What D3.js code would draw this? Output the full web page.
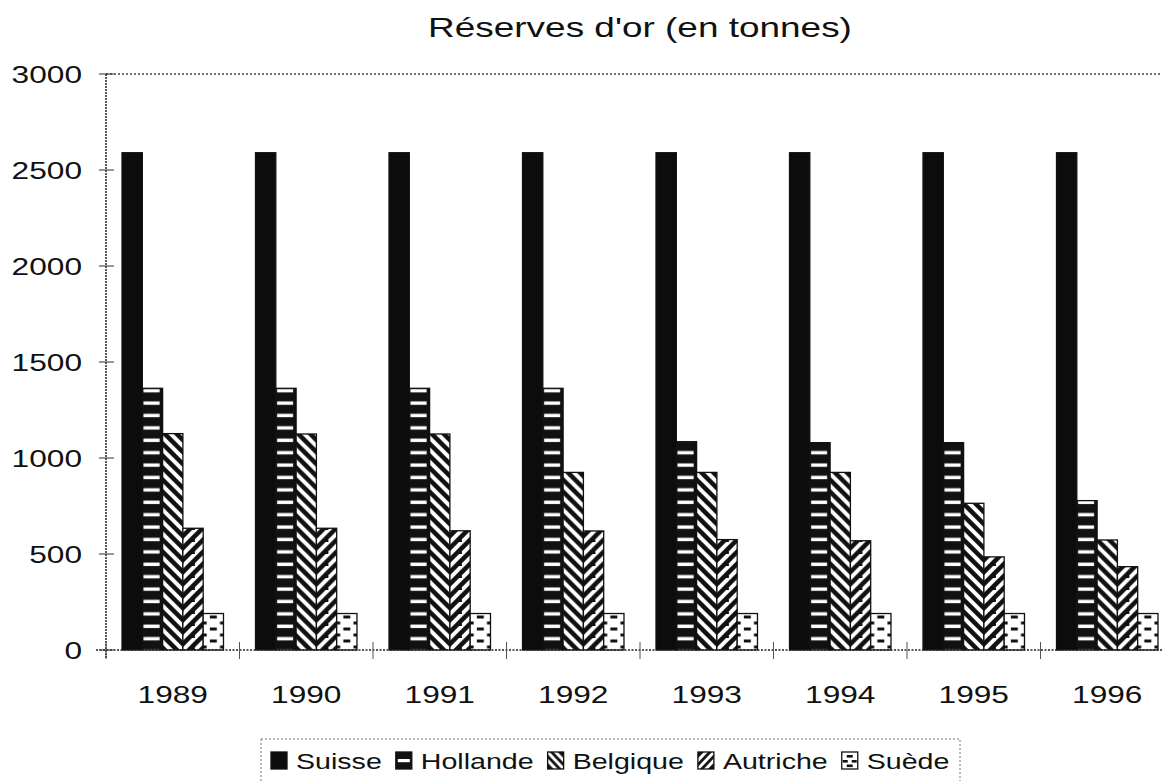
<!DOCTYPE html>
<html>
<head>
<meta charset="utf-8">
<script src="https://cdn.jsdelivr.net/npm/d3@7"></script>
<style>
  body { margin: 0; background: #fff; }
  svg text { font-family: "Liberation Sans", Arial, Helvetica, sans-serif; fill: #111; }
</style>
</head>
<body>
<svg id="chart" width="1162" height="781"></svg>
<script>
// data
const years = ['1989', '1990', '1991', '1992', '1993', '1994', '1995', '1996'];
const countries = ['Suisse', 'Hollande', 'Belgique', 'Autriche', 'Suède'];
const suisse   = [2590, 2590, 2590, 2590, 2590, 2590, 2590, 2590];
const hollande = [1363, 1363, 1363, 1363, 1085, 1080, 1080, 778];
const belgique = [1127, 1125, 1125, 925, 925, 925, 764, 573];
const autriche = [634, 634, 621, 620, 575, 569, 485, 434];
const suede    = [190, 190, 190, 190, 190, 190, 190, 190];
const yTicks = [0, 500, 1000, 1500, 2000, 2500, 3000];
const series = [suisse, hollande, belgique, autriche, suede];

const svg = d3.select('#chart');
const defs = svg.append('defs');
const SX = 1.32; // horizontal stretch of the lettering

const x = d3.scaleBand().domain(years).range([106, 1174]).paddingInner(0.24).paddingOuter(0.12);
const xs = d3.scaleBand().domain(countries).range([0, x.bandwidth()]);
const y = d3.scaleLinear().domain([0, 3000]).range([650, 74]);
const bw = xs.bandwidth();

function stretchedText(g, tx, ty, str, size, anchor, sx) {
    return g.append('text')
        .attr('transform', `translate(${tx},${ty}) scale(${sx || SX},1)`)
        .attr('text-anchor', anchor)
        .style('font-size', size + 'px')
        .text(str);
}

// fill patterns, anchored at the bar they belong to (absolute coords)
function makePattern(id, kind, x0, y0, w) {
    let p = defs.append('pattern').attr('id', id).attr('patternUnits', 'userSpaceOnUse');
    if (kind === 'Hollande') {
        p.attr('x', x0).attr('y', y0 - 3).attr('width', w).attr('height', 12.4);
        p.append('rect').attr('width', w).attr('height', 12.4).attr('fill', '#111');
        p.append('rect').attr('x', 1.2).attr('y', 2.4).attr('width', w - 4.2).attr('height', 3.4).attr('fill', '#fff');
    } else if (kind === 'Belgique' || kind === 'Autriche') {
        let s = 12;
        p.attr('x', x0).attr('y', y0).attr('width', s).attr('height', s);
        p.append('rect').attr('width', s).attr('height', s).attr('fill', '#111');
        let d = '';
        [-s, 0, s].forEach(c => {
            if (kind === 'Belgique') d += `M-2,${-2 + c}L${s + 2},${s + 2 + c}`;
            else d += `M-2,${2 + c}L${s + 2},${-s - 2 + c}`;
        });
        p.append('path').attr('d', d).attr('stroke', '#fff').attr('stroke-width', 4);
    } else if (kind === 'Suède') {
        p.attr('x', x0).attr('y', y0).attr('width', w).attr('height', 12);
        p.append('rect').attr('width', w).attr('height', 12).attr('fill', '#fff');
        let c = w / 2;
        p.append('rect').attr('x', c - 3.5).attr('y', 1.5).attr('width', 7).attr('height', 3).attr('fill', '#111');
        p.append('rect').attr('x', -3.5).attr('y', 7.5).attr('width', 7).attr('height', 3).attr('fill', '#111');
        p.append('rect').attr('x', w - 3.5).attr('y', 7.5).attr('width', 7).attr('height', 3).attr('fill', '#111');
    }
}

function fillFor(country, id) {
    return country === 'Suisse' ? '#0c0c0c' : `url(#${id})`;
}

// bars
const bars = svg.append('g');
years.forEach((yr, i) => {
    countries.forEach((c, k) => {
        const bx = x(yr) + xs(c);
        let id = 'p' + i + '-' + k;
        let anchorX = (c === 'Belgique' || c === 'Autriche') ? x(yr) + xs('Autriche') : bx;
        if (c !== 'Suisse') makePattern(id, c, anchorX, 650, bw);
        bars.append('rect')
            .attr('x', bx)
            .attr('y', y(series[k][i]))
            .attr('width', bw)
            .attr('height', y(0) - y(series[k][i]))
            .attr('fill', fillFor(c, id))
            .attr('stroke', '#111')
            .attr('stroke-width', 1.3);
    });
});

// axes
const axes = svg.append('g');
axes.append('line').attr('x1', 106).attr('x2', 1162).attr('y1', y(3000)).attr('y2', y(3000))
    .attr('stroke', '#444').attr('stroke-width', 1.3).attr('stroke-dasharray', '2,2');
axes.append('line').attr('x1', 106).attr('x2', 106).attr('y1', y(3000)).attr('y2', y(0) + 8)
    .attr('stroke', '#222').attr('stroke-width', 1.5).attr('stroke-dasharray', '2,1');
axes.append('line').attr('x1', 96).attr('x2', 1162).attr('y1', y(0)).attr('y2', y(0))
    .attr('stroke', '#222').attr('stroke-width', 1.5).attr('stroke-dasharray', '2,1.5');

yTicks.forEach(t => {
    axes.append('line').attr('x1', 99).attr('x2', 114).attr('y1', y(t)).attr('y2', y(t))
        .attr('stroke', '#333').attr('stroke-width', 1);
    stretchedText(axes, 82, y(t) + 8.6, t, 24, 'end');
});

const gap = (x.step() - x.bandwidth()) / 2;
years.forEach(yr => {
    const bx = x(yr) - gap;
    axes.append('line').attr('x1', bx).attr('x2', bx).attr('y1', 642).attr('y2', 659)
        .attr('stroke', '#555').attr('stroke-width', 1);
    stretchedText(axes, x(yr) + x.bandwidth() / 2, 703, yr, 24, 'middle');
});

// title
stretchedText(svg, 640, 37, "Réserves d'or (en tonnes)", 28, 'middle');

// legend
const leg = svg.append('g');
leg.append('rect').attr('x', 261).attr('y', 739).attr('width', 699).attr('height', 60)
    .attr('fill', 'none').attr('stroke', '#777').attr('stroke-width', 1).attr('stroke-dasharray', '2,2');
let lx = 271;
countries.forEach((c, k) => {
    const id = 'leg' + k;
    if (c !== 'Suisse') {
        let p = defs.append('pattern').attr('id', id).attr('patternUnits', 'userSpaceOnUse')
            .attr('x', lx).attr('y', 752).attr('width', 16).attr('height', 17);
        p.append('rect').attr('width', 16).attr('height', 17).attr('fill', c === 'Suède' ? '#fff' : '#111');
        if (c === 'Hollande') {
            p.append('rect').attr('x', 2).attr('y', 7).attr('width', 12).attr('height', 3.2).attr('fill', '#fff');
        } else if (c === 'Belgique') {
            p.append('path').attr('d', 'M-2,-2L18,19M-10,-2L10,19M6,-2L26,19').attr('stroke', '#fff').attr('stroke-width', 3);
        } else if (c === 'Autriche') {
            p.append('path').attr('d', 'M-2,19L18,-2M-10,19L10,-2M6,19L26,-2').attr('stroke', '#fff').attr('stroke-width', 3);
        } else {
            p.append('rect').attr('x', 5).attr('y', 3).attr('width', 6).attr('height', 2.6).attr('fill', '#111');
            p.append('rect').attr('x', 1).attr('y', 8).attr('width', 5).attr('height', 2.6).attr('fill', '#111');
            p.append('rect').attr('x', 10).attr('y', 8).attr('width', 5).attr('height', 2.6).attr('fill', '#111');
            p.append('rect').attr('x', 5).attr('y', 12.5).attr('width', 6).attr('height', 2.6).attr('fill', '#111');
        }
    }
    leg.append('rect').attr('x', lx).attr('y', 752).attr('width', 16).attr('height', 17)
        .attr('fill', fillFor(c, id)).attr('stroke', '#111').attr('stroke-width', 1.3);
    const t = stretchedText(leg, lx + 25, 769, c, 22, 'start', 1.3);
    lx += 25 + t.node().getComputedTextLength() * 1.3 + 14;
});
</script>
</body>
</html>
